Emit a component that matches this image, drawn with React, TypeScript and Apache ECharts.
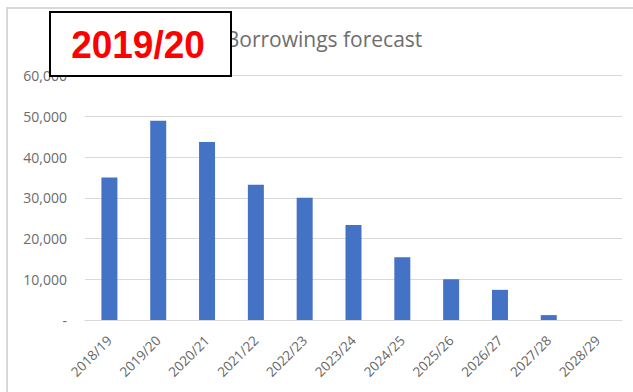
import React, { useEffect, useRef } from "react";
import * as echarts from "echarts";

const categories = ["2018/19", "2019/20", "2020/21", "2021/22", "2022/23", "2023/24", "2024/25", "2025/26", "2026/27", "2027/28", "2028/29"];
const borrowings = [35000, 48900, 43700, 33200, 30000, 23300, 15400, 10000, 7400, 1200, 0];
const yTicks = [0, 10000, 20000, 30000, 40000, 50000, 60000];
const titleText = "Borrowings forecast";
const highlightText = "2019/20";

export default function App() {
  const ref = useRef<HTMLDivElement>(null);
  useEffect(() => {
    if (!ref.current) return;
    const chart = echarts.init(ref.current, null, { renderer: "svg" });
    const font = "'Open Sans', sans-serif";
    chart.setOption({
      animation: false,
      backgroundColor: "#ffffff",
      title: {
        text: titleText,
        left: 319,
        top: 23,
        textAlign: "center",
        textStyle: { fontFamily: font, fontSize: 21, fontWeight: "normal", color: "#6e6e6e" },
      },
      grid: { left: 85, right: 11, top: 75.5, bottom: 72, containLabel: false },
      xAxis: {
        type: "category",
        data: categories,
        axisLine: { show: true, lineStyle: { color: "#d9d9d9", width: 1 } },
        axisTick: { show: false },
        axisLabel: {
          rotate: 45,
          interval: 0,
          margin: 18,
          fontFamily: font,
          fontSize: 13.5,
          color: "#666666",
        },
      },
      yAxis: {
        type: "value",
        min: yTicks[0],
        max: yTicks[yTicks.length - 1],
        interval: 10000,
        axisLine: { show: false },
        axisTick: { show: false },
        splitLine: { lineStyle: { color: "#d9d9d9", width: 1 } },
        axisLabel: {
          margin: 18,
          fontFamily: font,
          fontSize: 14,
          color: "#6b6b6b",
          formatter: (v: number) => (v === 0 ? "-" : v.toLocaleString("en-US")),
        },
      },
      series: [
        {
          type: "bar",
          data: borrowings,
          barWidth: 16,
          itemStyle: { color: "#4472C4" },
        },
      ],
      graphic: [
        {
          type: "rect",
          z: 50,
          silent: true,
          shape: { x: 7, y: 8, width: 640, height: 400 },
          style: { fill: "none", stroke: "#d9d9d9", lineWidth: 2 },
        },
        {
          type: "rect",
          z: 100,
          shape: { x: 50, y: 12, width: 181, height: 64 },
          style: { fill: "#ffffff", stroke: "#000000", lineWidth: 2 },
        },
        {
          type: "text",
          z: 101,
          x: 138,
          y: 45,
          scaleY: 1.05,
          style: {
            text: highlightText,
            fontFamily: "'Liberation Sans', Arial, sans-serif",
            fontSize: 37,
            fontWeight: "bold",
            fill: "#ff0000",
            align: "center",
            verticalAlign: "middle",
          },
        },
      ],
    });
    return () => chart.dispose();
  }, []);
  return <div ref={ref} style={{ position: "fixed", left: 0, top: 0, width: 633, height: 392 }} />;
}
